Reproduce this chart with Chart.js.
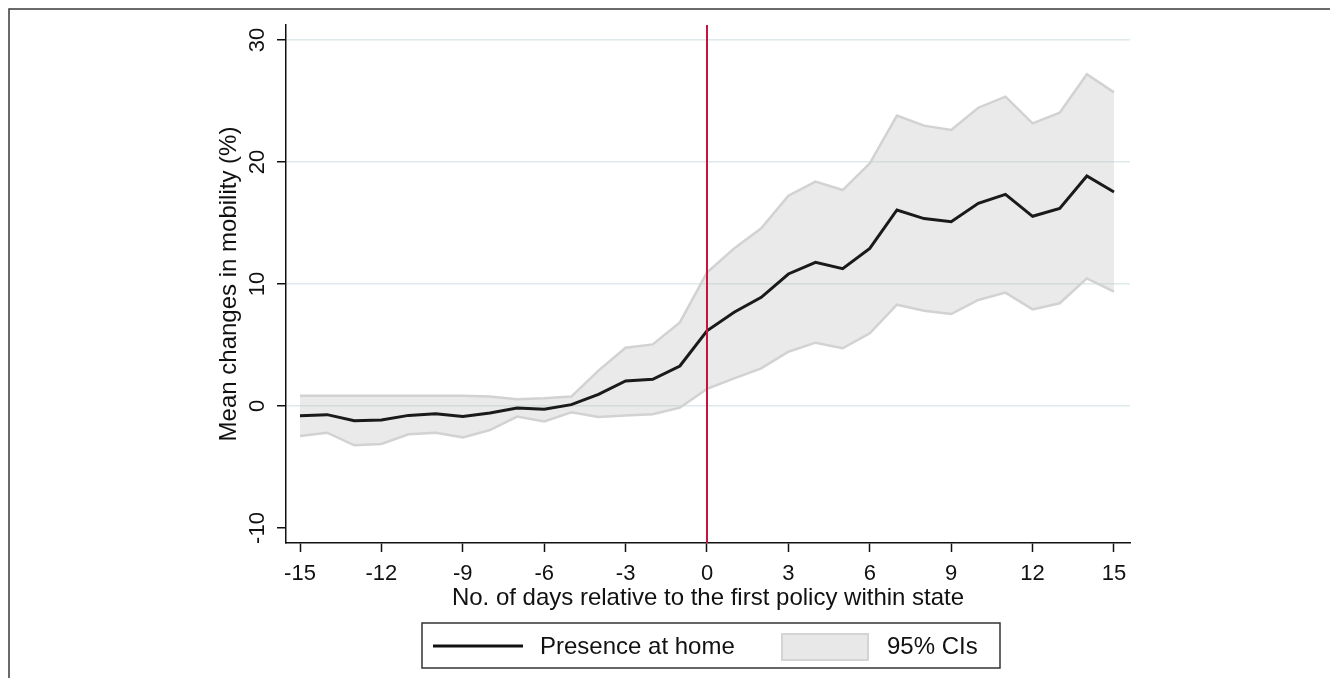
<!DOCTYPE html>
<html>
<head>
<meta charset="utf-8">
<script src="https://cdn.jsdelivr.net/npm/chart.js@4/dist/chart.umd.min.js"></script>
<style>
  html, body { margin: 0; padding: 0; background: #fff; }
  canvas { display: block; }
</style>
</head>
<body>
<canvas id="mobilityChart" width="1330" height="678"></canvas>
<script>
// Event-study data: days relative to first policy, mean change and 95% CI bounds
const days = [-15, -14, -13, -12, -11, -10, -9, -8, -7, -6, -5, -4, -3, -2, -1,
              0, 1, 2, 3, 4, 5, 6, 7, 8, 9, 10, 11, 12, 13, 14, 15];
const meanChange = [-0.79, -0.71, -1.20, -1.15, -0.77, -0.63, -0.87, -0.57, -0.16, -0.27, 0.11, 0.96, 2.05, 2.19, 3.28,
                    6.16, 7.68, 8.91, 10.82, 11.78, 11.26, 12.92, 16.07, 15.36, 15.11, 16.61, 17.35, 15.55, 16.20, 18.85, 17.54];
const ciUpper = [0.85, 0.85, 0.83, 0.84, 0.85, 0.85, 0.85, 0.77, 0.55, 0.63, 0.77, 2.9, 4.78, 5.05, 6.85,
                 10.93, 12.92, 14.56, 17.24, 18.39, 17.70, 19.89, 23.80, 22.98, 22.62, 24.45, 25.36, 23.17, 24.04, 27.19, 25.71];
const ciLower = [-2.46, -2.19, -3.22, -3.11, -2.32, -2.19, -2.57, -1.97, -0.87, -1.26, -0.52, -0.90, -0.77, -0.68, -0.14,
                 1.40, 2.27, 3.09, 4.45, 5.19, 4.73, 5.96, 8.30, 7.81, 7.54, 8.69, 9.29, 7.92, 8.42, 10.46, 9.37];
const xTicks = [-15, -12, -9, -6, -3, 0, 3, 6, 9, 12, 15];
const yTicks = [-10, 0, 10, 20, 30];
const policyDay = 0;

const FONT = "'Liberation Sans', Arial, sans-serif";
const pts = (arr) => days.map((d, i) => ({ x: d, y: arr[i] }));

// frame, policy line, rotated y tick labels and the boxed legend
const stataExtras = {
    id: 'stataExtras',
    beforeDraw(chart) {
        const ctx = chart.ctx;
        ctx.save();
        ctx.fillStyle = '#fff';
        ctx.fillRect(0, 0, chart.width, chart.height);
        ctx.strokeStyle = '#3a3a3a';
        ctx.lineWidth = 1.5;
        ctx.beginPath();
        ctx.moveTo(9, chart.height);
        ctx.lineTo(9, 9);
        ctx.lineTo(chart.width, 9);
        ctx.stroke();
        ctx.restore();
    },
    afterDatasetsDraw(chart) {
        const ctx = chart.ctx;
        const x = chart.scales.x.getPixelForValue(policyDay);
        const area = chart.chartArea;
        ctx.save();
        ctx.strokeStyle = '#c8143c';
        ctx.lineWidth = 2;
        ctx.beginPath();
        ctx.moveTo(x, area.top);
        ctx.lineTo(x, area.bottom);
        ctx.stroke();
        ctx.restore();
    },
    afterDraw(chart) {
        const ctx = chart.ctx;
        const yScale = chart.scales.y;
        ctx.save();
        ctx.fillStyle = '#111';
        ctx.font = '22px ' + FONT;
        ctx.textAlign = 'center';
        ctx.textBaseline = 'middle';
        yTicks.forEach(v => {
            ctx.save();
            ctx.translate(258, yScale.getPixelForValue(v));
            ctx.rotate(-Math.PI / 2);
            ctx.fillText(String(v), 0, 0);
            ctx.restore();
        });

        // legend box
        const ds = chart.data.datasets;
        ctx.strokeStyle = '#333';
        ctx.lineWidth = 1.5;
        ctx.strokeRect(422, 623, 578, 45);
        ctx.strokeStyle = '#111';
        ctx.lineWidth = 3;
        ctx.beginPath();
        ctx.moveTo(433, 646);
        ctx.lineTo(523, 646);
        ctx.stroke();
        ctx.fillStyle = '#e8e8e8';
        ctx.fillRect(782, 634, 86, 26);
        ctx.strokeStyle = '#d4d4d4';
        ctx.lineWidth = 2;
        ctx.strokeRect(782, 634, 86, 26);
        ctx.fillStyle = '#111';
        ctx.font = '24px ' + FONT;
        ctx.textAlign = 'left';
        ctx.fillText(ds[0].label, 540, 647);
        ctx.fillText(ds[2].label, 887, 647);
        ctx.restore();
    }
};

const chart = new Chart(document.getElementById('mobilityChart').getContext('2d'), {
    type: 'line',
    data: {
        datasets: [
            {
                label: 'Presence at home',
                data: pts(meanChange),
                borderColor: '#1a1a1a',
                borderWidth: 3,
                pointRadius: 0,
                tension: 0,
                fill: false
            },
            {
                label: 'CI lower',
                data: pts(ciLower),
                borderColor: '#d2d2d2',
                borderWidth: 2.5,
                pointRadius: 0,
                tension: 0,
                fill: false
            },
            {
                label: '95% CIs',
                data: pts(ciUpper),
                borderColor: '#d2d2d2',
                borderWidth: 2.5,
                backgroundColor: 'rgba(190,190,190,0.33)',
                pointRadius: 0,
                tension: 0,
                fill: '-1'
            }
        ]
    },
    options: {
        responsive: false,
        animation: false,
        layout: { padding: { left: 215, right: 200, top: 25, bottom: 65.6 } },
        plugins: {
            legend: { display: false },
            tooltip: { enabled: false }
        },
        scales: {
            x: {
                type: 'linear',
                min: -15.516,
                max: 15.59,
                afterBuildTicks: (scale) => { scale.ticks = xTicks.map(v => ({ value: v })); },
                afterFit: (scale) => { scale.height = 69.4; },
                grid: { drawOnChartArea: false, tickLength: 9, tickColor: '#111', tickWidth: 1.5 },
                border: { display: true, color: '#111', width: 1.5 },
                ticks: {
                    color: '#111',
                    font: { family: FONT, size: 22 },
                    padding: 9,
                    maxRotation: 0,
                    autoSkip: false
                },
                title: {
                    display: true,
                    text: 'No. of days relative to the first policy within state',
                    color: '#111',
                    font: { family: FONT, size: 24 },
                    padding: 0
                }
            },
            y: {
                min: -11.23,
                max: 31.23,
                afterBuildTicks: (scale) => { scale.ticks = yTicks.map(v => ({ value: v })); },
                afterFit: (scale) => { scale.width = 71; },
                grid: {
                    color: (c) => (c.tick && c.tick.value === -10) ? 'rgba(0,0,0,0)' : '#dde9ea',
                    lineWidth: 1.5,
                    tickLength: 9,
                    tickColor: '#111',
                    tickWidth: 1.5
                },
                border: { display: true, color: '#111', width: 1.5 },
                ticks: { display: false },
                title: {
                    display: true,
                    text: 'Mean changes in mobility (%)',
                    color: '#111',
                    font: { family: FONT, size: 24 },
                    padding: 0
                }
            }
        }
    },
    plugins: [stataExtras]
});
</script>
</body>
</html>
